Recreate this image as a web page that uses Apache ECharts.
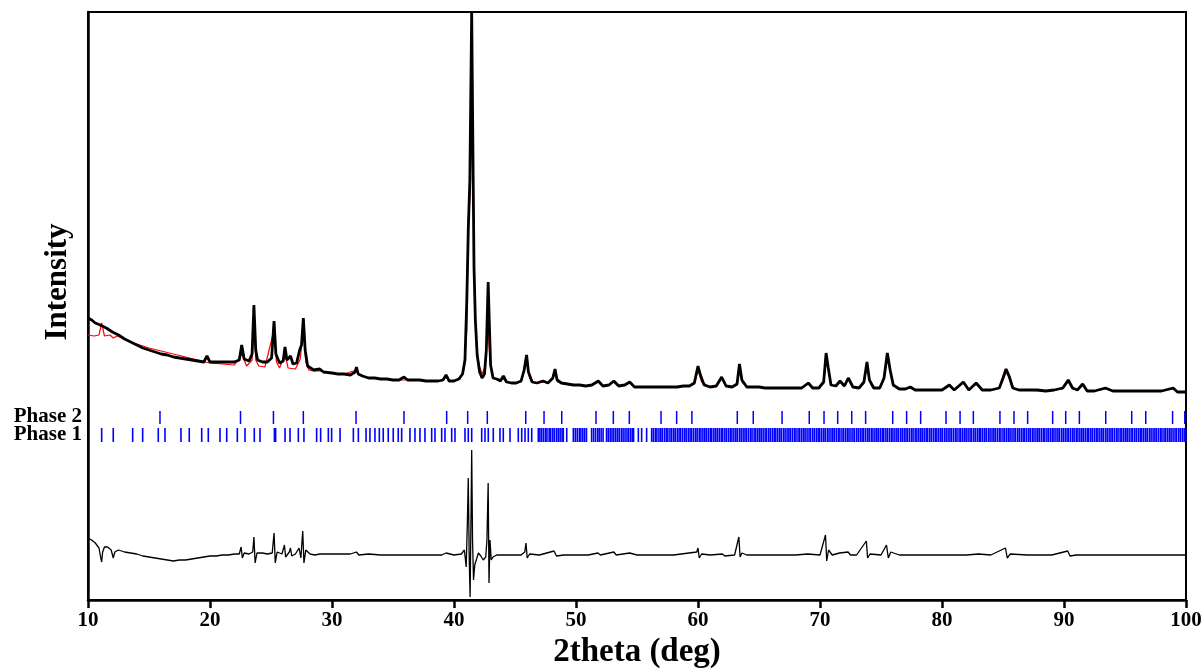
<!DOCTYPE html>
<html>
<head>
<meta charset="utf-8">
<script src="https://cdn.jsdelivr.net/npm/echarts@6/dist/echarts.min.js"></script>
<style>html,body{margin:0;padding:0;background:#fff}#c{width:1202px;height:669px}</style>
</head>
<body>
<div id="c"></div>
<script>
// Observed pattern [2theta, intensity (arb.)]
var observed = [[10.0,282],[10.3,280],[10.6,277],[11.0,275],[11.5,272],[12.0,268],[12.5,265],[13.0,261],[13.5,258],[14.0,255],[14.5,252],[15.0,250],[15.5,248],[16.0,246],[16.5,245],[17.0,243],[17.5,242],[18.0,241],[18.5,240],[19.0,239],[19.5,238],[19.75,244],[20.0,238],[20.5,238],[21.0,238],[21.5,238],[22.0,238],[22.4,240],[22.6,255],[22.8,241],[23.2,239],[23.45,246],[23.6,295],[23.75,250],[23.9,240],[24.3,238],[24.7,238],[25.05,242],[25.25,279],[25.4,246],[25.7,237],[26.0,239],[26.15,253],[26.3,240],[26.6,244],[26.8,236],[27.1,237],[27.35,250],[27.5,255],[27.65,282],[27.8,250],[28.0,234],[28.5,230],[29.0,231],[29.3,228],[30.0,227],[30.5,226],[31.0,226],[31.5,225],[31.9,228],[32.0,233],[32.15,226],[32.5,224],[33.0,222],[33.5,222],[34.0,221],[34.5,221],[35.0,220],[35.5,220],[35.9,223],[36.2,220],[36.7,220],[37.2,220],[37.7,219],[38.2,219],[38.7,219],[39.1,220],[39.35,225],[39.6,219],[40.0,219],[40.4,221],[40.7,226],[40.9,240],[41.05,300],[41.17,370],[41.3,420],[41.45,588],[41.55,450],[41.64,333],[41.75,280],[41.9,245],[42.1,228],[42.3,222],[42.5,226],[42.65,250],[42.8,318],[42.9,275],[43.0,235],[43.2,222],[43.5,221],[43.8,219],[44.05,224],[44.3,218],[44.7,217],[45.1,217],[45.5,219],[45.75,230],[45.95,245],[46.1,228],[46.4,218],[46.8,217],[47.3,219],[47.7,217],[48.1,222],[48.28,231],[48.45,220],[48.8,217],[49.3,216],[49.8,215],[50.3,215],[50.8,214],[51.3,215],[51.83,219],[52.2,214],[52.7,215],[53.1,219],[53.5,214],[54.0,215],[54.4,218],[54.8,213],[55.3,213],[55.8,213],[56.3,213],[56.8,213],[57.3,213],[57.8,213],[58.3,213],[58.8,214],[59.3,214],[59.7,217],[60.0,234],[60.2,225],[60.5,215],[61.0,213],[61.5,214],[61.94,223],[62.3,214],[62.8,213],[63.2,216],[63.4,236],[63.6,220],[64.0,213],[64.5,213],[65.0,213],[65.5,212],[66.0,212],[66.5,212],[67.0,212],[67.5,212],[68.0,212],[68.5,212],[69.04,217],[69.4,212],[69.9,212],[70.3,218],[70.5,247],[70.68,232],[70.9,215],[71.3,214],[71.64,219],[72.0,214],[72.32,222],[72.7,213],[73.2,212],[73.6,218],[73.85,238],[74.05,220],[74.4,212],[74.9,212],[75.25,222],[75.52,247],[75.75,230],[76.0,215],[76.5,211],[77.0,211],[77.4,213],[77.8,210],[78.5,210],[79.2,210],[80.0,210],[80.6,215],[81.0,210],[81.75,218],[82.2,210],[82.8,217],[83.3,210],[84.0,210],[84.7,212],[85.0,222],[85.25,231],[85.5,224],[85.8,212],[86.3,210],[87.0,210],[87.8,210],[88.5,209],[89.2,210],[89.9,212],[90.35,220],[90.7,212],[91.1,210],[91.53,216],[91.9,209],[92.5,209],[93.4,212],[94.0,209],[95.0,209],[96.0,209],[97.0,209],[98.0,209],[98.95,212],[99.3,208],[100.0,208]];

// Calculated pattern
var calculated = [[10.0,265],[10.5,264],[10.9,265],[11.12,277],[11.35,264],[11.8,265],[12.07,262],[12.4,264],[13.0,261],[13.5,258],[14.0,256],[14.5,254],[15.0,252],[16.0,249],[17.0,246],[18.0,243],[19.0,240],[19.6,238],[20.0,237],[21.0,236],[22.0,235],[22.6,246],[23.0,234],[23.45,240],[23.6,282],[23.75,240],[24.0,234],[24.5,233],[25.25,270],[25.45,238],[25.7,232],[26.15,246],[26.4,232],[27.0,231],[27.4,241],[27.65,272],[27.85,238],[28.1,230],[28.5,229],[29.0,229],[30.0,227],[31.0,226],[32.0,230],[32.2,225],[33.0,222],[34.0,221],[35.0,220],[36.0,220],[37.0,220],[38.0,219],[39.0,219],[39.35,223],[39.6,219],[40.0,219],[40.5,221],[40.8,230],[41.05,270],[41.17,380],[41.3,400],[41.45,490],[41.58,420],[41.7,300],[41.85,250],[42.1,233],[42.3,226],[42.55,233],[42.65,257],[42.8,270],[42.95,240],[43.2,222],[43.5,221],[44.0,221],[44.5,218],[45.0,217],[45.5,218],[45.95,240],[46.2,222],[46.6,217],[47.3,218],[47.7,217],[48.1,221],[48.28,228],[48.5,218],[48.8,217],[49.3,216],[49.8,215],[50.3,215],[50.8,214],[51.3,215],[51.83,218],[52.2,214],[52.7,215],[53.1,218],[53.5,214],[54.0,215],[54.4,217],[54.8,213],[56.0,213],[58.0,213],[58.8,214],[59.3,214],[59.7,216],[60.0,230],[60.3,218],[61.0,213],[61.5,214],[61.94,221],[62.3,214],[62.8,213],[63.2,215],[63.4,230],[63.6,218],[64.0,213],[65.0,213],[65.5,212],[68.5,212],[69.04,216],[69.5,212],[69.9,212],[70.3,217],[70.5,240],[70.7,228],[70.9,215],[71.3,214],[71.64,218],[72.0,214],[72.32,221],[72.7,213],[73.2,212],[73.6,217],[73.85,234],[74.1,218],[74.5,212],[74.9,212],[75.25,221],[75.52,242],[75.8,226],[76.1,214],[76.5,211],[77.0,211],[77.4,212],[77.8,210],[80.0,210],[80.6,214],[81.0,210],[81.75,217],[82.2,210],[82.8,216],[83.3,210],[84.0,210],[84.7,212],[85.0,220],[85.25,228],[85.6,220],[85.9,211],[86.3,210],[88.5,209],[89.2,210],[89.9,211],[90.35,218],[90.7,211],[91.1,210],[91.53,215],[91.9,209],[92.5,209],[93.4,211],[94.0,209],[98.0,209],[98.95,211],[99.3,208],[100.0,208]];

// Difference curve (offset)
var difference = [[10.0,62],[10.3,60],[10.6,57],[10.9,52],[11.05,42],[11.12,38],[11.2,48],[11.35,53],[11.6,53],[11.9,50],[12.07,42],[12.2,48],[12.5,50],[13.0,48],[13.5,47],[14.0,46],[14.5,44],[15.0,43],[15.5,42],[16.0,41],[16.5,40],[17.0,39],[17.5,40],[18.0,40],[18.5,41],[19.0,42],[19.5,43],[20.0,44],[20.5,44],[21.0,45],[21.5,45],[22.0,46],[22.4,46],[22.55,53],[22.65,42],[22.8,47],[23.2,46],[23.5,48],[23.6,63],[23.7,37],[23.85,47],[24.3,47],[24.7,46],[25.1,47],[25.25,67],[25.35,37],[25.5,48],[25.9,46],[26.1,55],[26.2,43],[26.5,48],[26.6,52],[26.7,44],[27.0,46],[27.3,52],[27.45,42],[27.6,69],[27.7,37],[27.85,50],[28.2,46],[28.6,45],[29.0,46],[30.0,46],[31.0,46],[31.5,46],[32.0,48],[32.2,45],[33.0,46],[34.0,45],[35.0,45],[36.0,45],[37.0,45],[38.0,45],[39.0,45],[39.35,47],[40.0,45],[40.6,46],[40.85,50],[41.0,33],[41.1,80],[41.17,122],[41.25,40],[41.32,3],[41.4,90],[41.45,150],[41.52,60],[41.6,20],[41.7,35],[41.85,37],[42.0,47],[42.2,44],[42.4,40],[42.6,43],[42.7,60],[42.8,117],[42.87,17],[42.95,60],[43.05,40],[43.2,43],[43.5,45],[44.0,45],[44.5,45],[45.0,45],[45.5,45],[45.8,48],[45.9,57],[46.0,42],[46.2,46],[47.0,45],[48.2,49],[48.3,51],[48.4,44],[49.0,45],[50.0,45],[51.0,45],[51.8,47],[52.0,45],[53.1,48],[53.3,45],[54.4,47],[55.0,45],[56.0,45],[57.0,45],[58.0,45],[59.9,48],[60.0,52],[60.1,42],[60.3,46],[61.0,45],[62.0,46],[62.2,44],[63.0,45],[63.35,63],[63.45,43],[63.6,47],[64.0,45],[65.0,45],[66.0,45],[67.0,45],[68.0,45],[69.0,46],[70.0,45],[70.45,65],[70.55,39],[70.7,50],[71.0,45],[71.6,47],[72.3,48],[72.5,45],[73.0,45],[73.8,59],[73.9,42],[74.1,46],[75.0,45],[75.45,55],[75.6,42],[75.8,48],[76.5,45],[78.0,45],[80.0,45],[81.0,45],[82.0,45],[83.0,46],[84.0,45],[85.2,52],[85.35,42],[85.6,46],[87.0,45],[89.0,45],[90.3,49],[90.5,44],[91.0,45],[92.0,45],[94.0,45],[96.0,45],[98.0,45],[100.0,45]];

// Reflection positions
var phase2Pos = [15.9,22.5,25.2,27.65,31.97,35.9,39.4,41.12,42.73,45.88,47.38,48.83,51.64,53.06,54.37,56.97,58.25,59.5,63.22,64.53,66.89,69.12,70.33,71.45,72.6,73.74,75.96,77.1,78.25,80.33,81.48,82.57,84.75,85.9,87.02,89.07,90.14,91.26,93.42,95.55,96.7,98.9,99.9];

var phase1Pos = [11.12,12.07,13.66,14.48,15.76,16.31,17.62,18.3,19.32,19.86,20.82,21.37,22.24,22.87,23.63,24.1,25.28,25.38,26.15,26.56,27.24,27.7,28.74,29.07,29.7,29.97,30.66,31.75,32.16,32.79,33.11,33.52,33.88,34.2,34.61,35.02,35.43,
35.71,36.39,36.8,37.21,37.62,38.17,38.44,38.99,39.26,39.81,40.08,40.9,41.17,41.45,42.27,42.54,42.81,43.22,43.77,44.04,44.59,45.27,45.55,45.82,46.09,46.37,
46.91,47.04,47.18,47.33,47.49,47.62,47.8,47.93,48.1,48.24,48.41,48.55,48.7,48.86,48.96,49.24,49.78,49.94,50.1,50.27,50.4,50.56,50.71,50.86,51.28,51.44,51.6,51.77,51.9,52.06,52.22,52.5,52.64,52.8,52.95,53.1,53.26,53.41,53.55,53.72,53.86,54.02,54.18,54.32,54.48,54.62,54.72,55.11,55.38,55.79,
56.2,56.34,56.5,56.63,56.8,56.95,57.08,57.25,57.4,57.53,57.7,57.84,58.0,58.13,58.3,58.45,58.58,58.74,58.9,59.03,59.2,59.35,59.48,59.64,59.8,59.93,60.1,60.24,60.4,60.55,60.68,60.84,61.0,61.13,61.3,61.44,61.58,61.74,61.9,62.03,62.2,62.34,62.5,62.65,62.78,62.94,63.1,63.23,63.4,63.54,63.7,63.85,63.98,64.14,64.3,64.43,64.6,64.74,64.9,65.05,65.18,65.34,65.5,65.63,65.8,65.94,66.1,66.25,66.38,66.54,66.7,66.83,67.0,67.14,67.3,67.45,67.58,67.74,67.9,68.03,68.2,68.34,68.5,68.65,68.78,68.94,69.1,69.23,69.4,69.54,69.7,69.85,69.98,70.14,70.3,70.43,70.6,70.74,70.9,71.05,71.18,71.34,71.5,71.63,71.8,71.94,72.1,72.25,72.38,72.54,72.7,72.83,73.0,73.14,73.3,73.45,73.58,73.74,73.9,74.03,74.2,74.34,74.5,74.65,74.78,74.94,75.1,75.23,75.4,75.54,75.7,75.85,75.98,76.14,76.3,76.43,76.6,76.74,76.9,77.05,77.18,77.34,77.5,77.63,77.8,77.94,78.1,78.25,78.38,78.54,78.7,78.83,79.0,79.14,79.3,79.45,79.58,79.74,79.9,80.03,80.2,80.34,80.5,80.65,80.78,80.94,81.1,81.23,81.4,81.54,81.7,81.85,81.98,82.14,82.3,82.43,82.6,82.74,82.9,83.05,83.18,83.34,83.5,83.63,83.8,83.94,84.1,84.25,84.38,84.54,84.7,84.83,85.0,85.14,85.3,85.45,85.58,85.74,85.9,86.03,86.2,86.34,86.5,86.65,86.78,86.94,87.1,87.23,87.4,87.54,87.7,87.85,87.98,88.14,88.3,88.43,88.6,88.74,88.9,89.05,89.18,89.34,89.5,89.63,89.8,89.94,90.1,90.25,90.38,90.54,90.7,90.83,91.0,91.14,91.3,91.45,91.58,91.74,91.9,92.03,92.2,92.34,92.5,92.65,92.78,92.94,93.1,93.23,93.4,93.54,93.7,93.85,93.98,94.14,94.3,94.43,94.6,94.74,94.9,95.05,95.18,95.34,95.5,95.63,95.8,95.94,96.1,96.25,96.38,96.54,96.7,96.83,97.0,97.14,97.3,97.45,97.58,97.74,97.9,98.03,98.2,98.34,98.5,98.65,98.78,98.94,99.1,99.23,99.4,99.54,99.7,99.85,99.98];

var phaseLabels = ['Phase 2', 'Phase 1'];
var phaseRowLevel = [182.5, 165];
var xMin = 10, xMax = 100, xStep = 10;
var xTitle = '2theta (deg)';
var yTitle = 'Intensity';

var chart = echarts.init(document.getElementById('c'), null, {renderer: 'canvas'});
var serif = '"Liberation Serif", "Times New Roman", serif';

function tickSeries(name, pos, level, h, w) {
  return {
    name: name, type: 'scatter', symbol: 'rect', symbolSize: [w, h],
    itemStyle: {color: '#0000ff', opacity: 1}, silent: true, animation: false,
    data: pos.map(function (p) { return [p, level]; }), z: 3
  };
}

chart.setOption({
  animation: false,
  backgroundColor: '#ffffff',
  grid: {left: 88, right: 16, top: 12, bottom: 69, show: true, borderColor: '#000', borderWidth: 2, backgroundColor: 'transparent', containLabel: false, outerBoundsMode: 'none'},
  xAxis: {
    type: 'value', min: xMin, max: xMax, interval: xStep,
    name: xTitle, nameLocation: 'middle', nameGap: 36,
    nameTextStyle: {fontFamily: serif, fontWeight: 'bold', fontSize: 33, color: '#000'},
    axisLine: {show: true, onZero: false, lineStyle: {color: '#000', width: 2.5}},
    axisTick: {show: true, inside: false, length: 8, lineStyle: {color: '#000', width: 2.5}},
    axisLabel: {fontFamily: serif, fontWeight: 'bold', fontSize: 21, color: '#000', margin: 10},
    splitLine: {show: false}
  },
  yAxis: {
    type: 'value', min: 0, max: 588,
    axisLine: {show: true, lineStyle: {color: '#000', width: 2.5}},
    axisTick: {show: false}, axisLabel: {show: false}, splitLine: {show: false}
  },
  graphic: [
    {type: 'text', x: 58, y: 282, rotation: Math.PI / 2, style: {text: yTitle, font: 'bold 31px ' + serif, fill: '#000', align: 'center', verticalAlign: 'middle'}},
    {type: 'text', x: 82, y: 417, style: {text: phaseLabels[0], font: 'bold 21px ' + serif, fill: '#000', align: 'right', verticalAlign: 'middle'}},
    {type: 'text', x: 82, y: 435, style: {text: phaseLabels[1], font: 'bold 21px ' + serif, fill: '#000', align: 'right', verticalAlign: 'middle'}}
  ],
  series: [
    {name: 'Calc', type: 'line', data: calculated, showSymbol: false, lineStyle: {color: '#ff0000', width: 1.2}, z: 2, silent: true},
    {name: 'Obs', type: 'line', data: observed, showSymbol: false, lineStyle: {color: '#000', width: 2.8}, z: 4, silent: true, clip: true},
    {name: 'Diff', type: 'line', data: difference, showSymbol: false, lineStyle: {color: '#000', width: 1.3}, z: 4, silent: true},
    tickSeries('Phase 2', phase2Pos, phaseRowLevel[0], 13, 1.5),
    tickSeries('Phase 1', phase1Pos, phaseRowLevel[1], 14, 1.6)
  ]
});
</script>
</body>
</html>
